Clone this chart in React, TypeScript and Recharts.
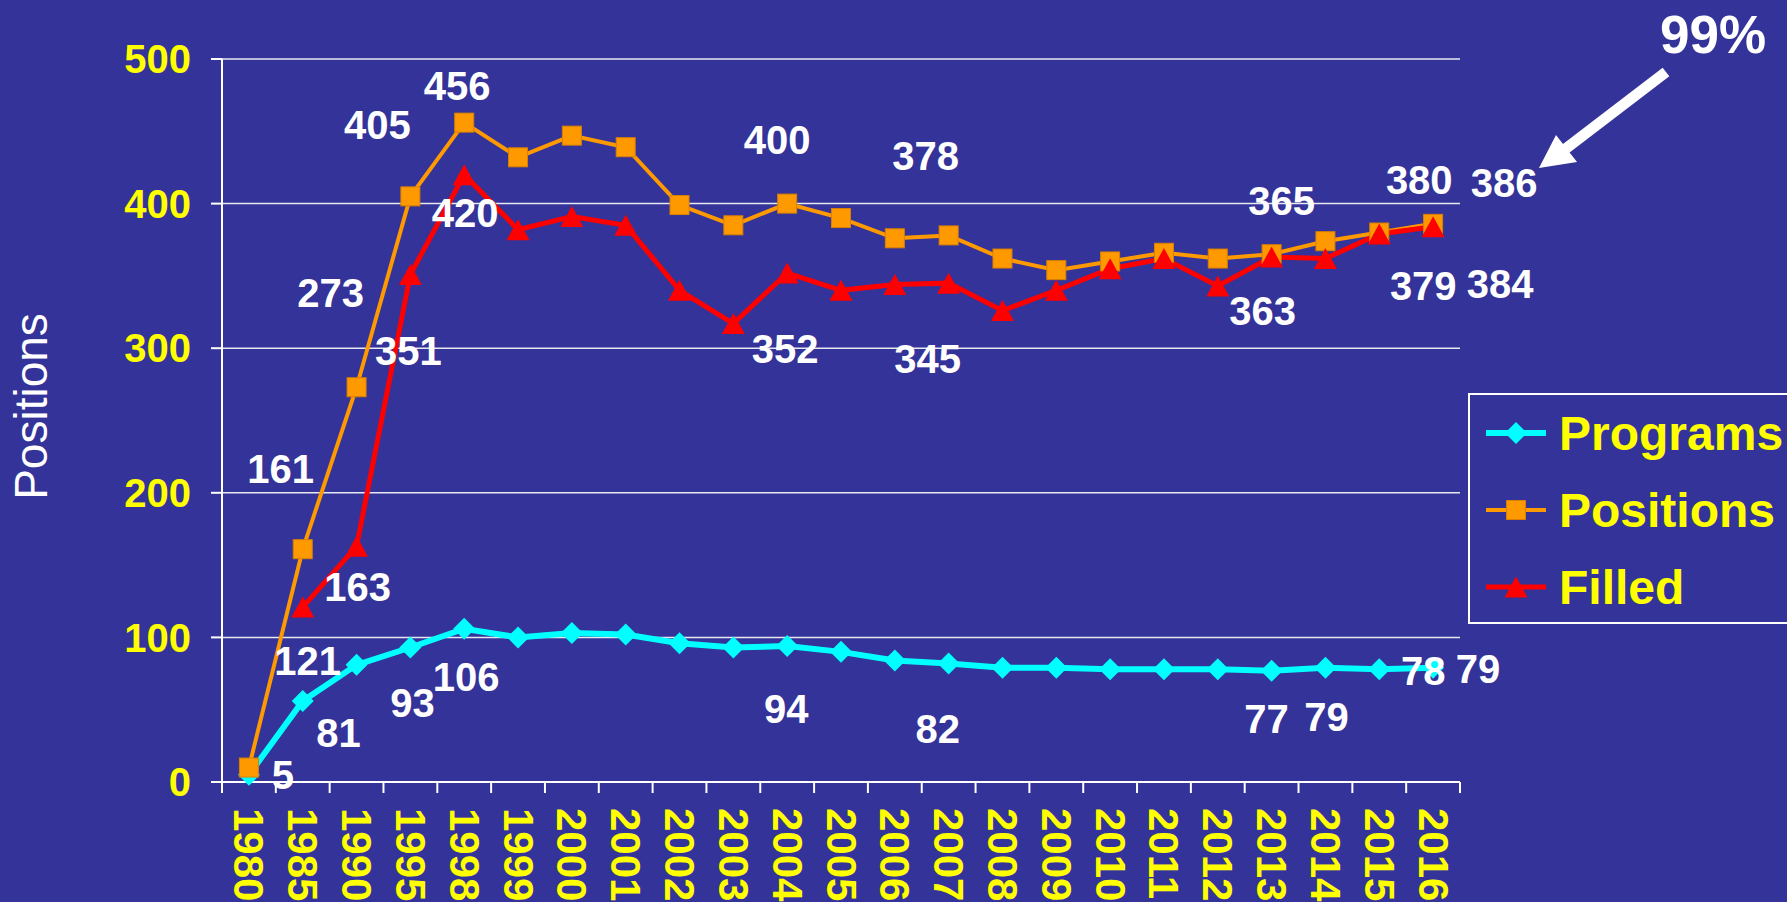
import React from 'react';
import { LineChart, Line, XAxis, YAxis, CartesianGrid, Legend, LabelList } from 'recharts';

document.body.style.margin = '0';

const years = ['1980', '1985', '1990', '1995', '1998', '1999', '2000', '2001', '2002', '2003', '2004', '2005',
  '2006', '2007', '2008', '2009', '2010', '2011', '2012', '2013', '2014', '2015', '2016'];
const programs = [5, 56, 81, 93, 106, 100, 103, 102, 96, 93, 94, 90, 84, 82, 79, 79, 78, 78, 78, 77, 79, 78, 79];
const positions = [10, 161, 273, 405, 456, 432, 447, 439, 399, 385, 400, 390, 376, 378, 362, 354, 360, 366, 362, 365, 374, 380, 386];
const filled = [null, 121, 163, 351, 420, 382, 391, 385, 340, 317, 352, 340, 344, 345, 326, 340, 355, 362, 343, 363, 362, 379, 384];
const yTicks = [0, 100, 200, 300, 400, 500];
const seriesOrder = ['programs', 'positions', 'filled'];

const BG = '#333399';
const CYAN = '#00FFFF';
const ORANGE = '#FF9900';
const RED = '#FF0000';
const YELLOW = '#FFFF00';
const FONT = "'Liberation Sans', Arial, sans-serif";

const data = years.map((year, i) => ({
  idx: i,
  year,
  programs: programs[i],
  positions: positions[i],
  filled: filled[i],
}));

// ticks at the category edges (tick marks) and centres (labels)
const xTicks = [...years.flatMap((_, i) => [i - 0.5, i]), years.length - 0.5];

// where the hand placed value labels sit, relative to their point
const programsLabelOffsets: Record<number, [number, number]> = {
  0: [34, 0], 2: [-18, 68], 3: [2, 55], 4: [2, 48], 10: [-1, 63], 13: [-11, 66],
  19: [-5, 48], 20: [1, 49], 21: [44, 2], 22: [45, 1],
};
const positionsLabelOffsets: Record<number, [number, number]> = {
  1: [-22, -80], 2: [-26, -94], 3: [-33, -71], 4: [-7, -37], 10: [-10, -64],
  13: [-23, -79], 19: [10, -53], 21: [40, -53], 22: [71, -41],
};
const filledLabelOffsets: Record<number, [number, number]> = {
  1: [5, 54], 2: [1, 41], 3: [-2, 77], 4: [1, 38], 10: [-2, 76],
  13: [-21, 76], 19: [-9, 54], 21: [44, 52], 22: [67, 57],
};

const makeLabel = (offsets: Record<number, [number, number]>) => (props: any) => {
  const { x, y, value, index } = props;
  const off = offsets[index];
  if (!off || value == null) return null;
  return (
    <text x={x + off[0]} y={y + off[1]} textAnchor="middle" dominantBaseline="central"
      fill="#fff" fontSize={40} fontWeight="bold" fontFamily={FONT}>
      {value}
    </text>
  );
};

const diamondPath = (cx: number, cy: number, r: number) =>
  `M${cx},${cy - r}L${cx + r},${cy}L${cx},${cy + r}L${cx - r},${cy}Z`;
const trianglePath = (cx: number, cy: number, w: number, h: number) =>
  `M${cx},${cy - h / 2}L${cx + w / 2},${cy + h / 2}L${cx - w / 2},${cy + h / 2}Z`;

const drawMarker = (kind: string, cx: number, cy: number) => {
  if (kind === 'programs') return <path d={diamondPath(cx, cy, 11)} fill={CYAN} />;
  if (kind === 'positions')
    return <rect x={cx - 9.5} y={cy - 9.5} width={19} height={19} fill={ORANGE} stroke="#d98000" strokeWidth={1} />;
  return <path d={trianglePath(cx, cy, 23, 21)} fill={RED} />;
};

const makeDot = (kind: string) => (props: any) => {
  const { cx, cy, index } = props;
  if (cx == null || cy == null) return <g key={`${kind}-${index}`} />;
  return <g key={`${kind}-${index}`}>{drawMarker(kind, cx, cy)}</g>;
};

const renderXTick = (props: any) => {
  const { x, y, payload } = props;
  const v = payload.value;
  if (!Number.isInteger(v)) {
    return <line x1={x} x2={x} y1={y} y2={y + 11} stroke="#fff" strokeWidth={2} />;
  }
  const ty = y + 26;
  return (
    <text x={x} y={ty} transform={`rotate(90 ${x} ${ty})`} textAnchor="start" dominantBaseline="central"
      fill={YELLOW} fontSize={42} fontWeight="bold" fontFamily={FONT}>
      {years[v]}
    </text>
  );
};

const renderAxisTitle = (props: any) => {
  const { viewBox } = props;
  const x = viewBox.x + 31;
  const y = viewBox.y + viewBox.height / 2 - 14;
  return (
    <text x={x} y={y} transform={`rotate(-90 ${x} ${y})`} textAnchor="middle" dominantBaseline="central"
      fill="#fff" fontSize={46} fontFamily={FONT}>
      Positions
    </text>
  );
};

const lineWidths: Record<string, number> = { programs: 6, positions: 4, filled: 5 };

const renderLegend = (props: any) => {
  const payload = [...(props.payload || [])].sort(
    (a: any, b: any) => seriesOrder.indexOf(a.dataKey) - seriesOrder.indexOf(b.dataKey)
  );
  return (
    <svg width={360} height={232}>
      <rect x={1} y={1} width={358} height={229} fill="none" stroke="#fff" strokeWidth={2} />
      {payload.map((entry: any, i: number) => {
        const cy = 40 + i * 77;
        return (
          <g key={`leg-${i}`}>
            <line x1={18} x2={78} y1={cy} y2={cy} stroke={entry.color} strokeWidth={lineWidths[entry.dataKey]} />
            {drawMarker(entry.dataKey, 48, cy)}
            <text x={91} y={cy} dominantBaseline="central" fill={YELLOW} fontSize={48}
              fontWeight="bold" fontFamily={FONT}>
              {entry.value}
            </text>
          </g>
        );
      })}
    </svg>
  );
};

export default function App() {
  return (
    <div style={{ position: 'relative', width: 1787, height: 902, background: BG, overflow: 'hidden' }}>
      <LineChart width={1787} height={902} data={data} margin={{ top: 59, right: 327, bottom: 0, left: 0 }}>
        <CartesianGrid vertical={false} stroke="#e8e8f0" strokeWidth={1.5} />
        <XAxis
          dataKey="idx"
          type="number"
          domain={[-0.5, years.length - 0.5]}
          ticks={xTicks}
          interval={0}
          height={120}
          tickSize={0}
          tickMargin={0}
          tickLine={false}
          axisLine={{ stroke: '#fff', strokeWidth: 2 }}
          tick={renderXTick}
        />
        <YAxis
          width={222}
          domain={[0, 500]}
          ticks={yTicks}
          interval={0}
          tickSize={11}
          tickMargin={20}
          axisLine={{ stroke: '#fff', strokeWidth: 2 }}
          tickLine={{ stroke: '#fff', strokeWidth: 2 }}
          tick={{ fill: YELLOW, fontSize: 40, fontWeight: 'bold', fontFamily: FONT }}
          label={renderAxisTitle}
        />
        <Legend
          layout="horizontal"
          verticalAlign="middle"
          align="center"
          content={renderLegend}
          wrapperStyle={{ position: 'absolute', left: 1468, top: 393, width: 360, height: 232 }}
        />
        <Line dataKey="programs" name="Programs" stroke={CYAN} strokeWidth={6} dot={makeDot('programs')}
          activeDot={false} isAnimationActive={false}>
          <LabelList dataKey="programs" content={makeLabel(programsLabelOffsets)} />
        </Line>
        <Line dataKey="positions" name="Positions" stroke={ORANGE} strokeWidth={4} dot={makeDot('positions')}
          activeDot={false} isAnimationActive={false}>
          <LabelList dataKey="positions" content={makeLabel(positionsLabelOffsets)} />
        </Line>
        <Line dataKey="filled" name="Filled" stroke={RED} strokeWidth={5} dot={makeDot('filled')}
          activeDot={false} isAnimationActive={false}>
          <LabelList dataKey="filled" content={makeLabel(filledLabelOffsets)} />
        </Line>
      </LineChart>
      <svg width={1787} height={902} style={{ position: 'absolute', left: 0, top: 0, pointerEvents: 'none' }}>
        <text x={1713} y={53} textAnchor="middle" fill="#fff" fontSize={53} fontWeight="bold" fontFamily={FONT}>
          99%
        </text>
        <line x1={1666} y1={72} x2={1564} y2={150} stroke="#fff" strokeWidth={11} />
        <polygon points="1539,168 1556,135 1577,162" fill="#fff" />
      </svg>
    </div>
  );
}
